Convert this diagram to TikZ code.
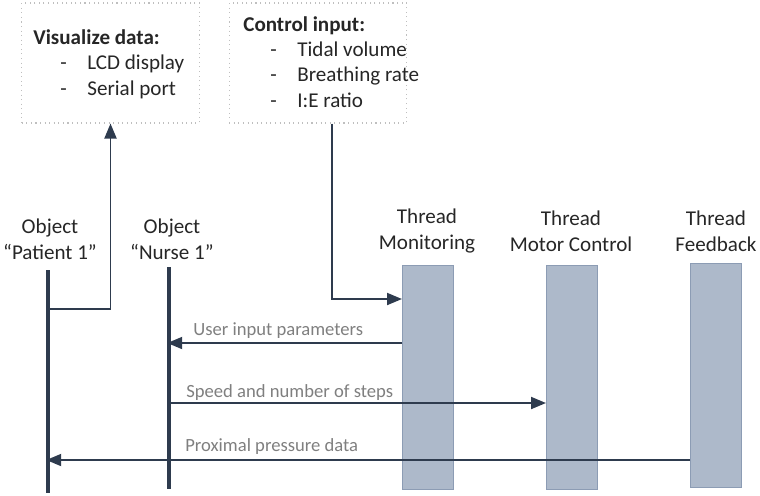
\documentclass[tikz,border=0pt]{standalone}
\usepackage{fontspec}
\setmainfont{Carlito}
\usetikzlibrary{arrows.meta,positioning}
\definecolor{threadfill}{HTML}{ADB9CA}
\definecolor{threaddraw}{HTML}{8C9CB4}
\definecolor{linecol}{HTML}{2E3B4E}
\definecolor{labelgray}{HTML}{7F7F7F}
\definecolor{boxgray}{HTML}{BFBFBF}
\newcommand{\dashitem}[1]{\hspace*{0.54cm}\makebox[0.54cm][l]{-}#1}

\begin{document}
\begin{tikzpicture}[x=0.02cm,y=-0.02cm,
    font=\fontsize{12}{14.4}\selectfont,
    thread/.style={draw=threaddraw,fill=threadfill,inner sep=0pt,
      minimum width=1.02cm,minimum height=4.48cm,anchor=north west},
    tlabel/.style={align=center,text=black!85,font=\fontsize{12}{14.8}\selectfont},
    lifeline/.style={draw=linecol,line width=2.3pt},
    msg/.style={draw=linecol,line width=1.1pt,-{Triangle[length=0.3cm,width=0.24cm]}},
    msglbl/.style={anchor=west,text=labelgray,inner sep=0pt,font=\fontsize{10.6}{12}\selectfont},
    infobox/.style={draw=boxgray,dotted,line width=0.6pt,minimum width=3.55cm,minimum height=2.4cm},
    boxtext/.style={anchor=west,align=left,inner sep=0pt,text=black!85}]
  \useasboundingbox (0,0) rectangle (760,495);

  % info boxes
  \node[infobox] (vis) at (110.5,63) {};
  \node[infobox] (ctl) at (318,63) {};
  \node[boxtext] (vistxt) at (33,64) {\textbf{Visualize data:}\\\dashitem{LCD display}\\\dashitem{Serial port}};
  \node[boxtext] (ctltxt) at (243,62) {\textbf{Control input:}\\\dashitem{Tidal volume}\\\dashitem{Breathing rate}\\\dashitem{I:E ratio}};

  % objects
  \node[tlabel] (patlbl) at (50,239) {Object\\“Patient 1”};
  \node[tlabel] (nurlbl) at (172,239) {Object\\“Nurse 1”};
  \coordinate (pattop) at (48,270);
  \coordinate (patbot) at (48,493);
  \coordinate (nurtop) at (169,267);
  \coordinate (nurbot) at (169,489);
  \draw[lifeline] (pattop) -- (patbot);
  \draw[lifeline] (nurtop) -- (nurbot);

  % threads
  \node[thread] (mon) at (402,265) {};
  \node[thread] (mot) at (546,265) {};
  \node[thread] (fb) at (690,263) {};
  \node[tlabel] (monlbl) at (427,231) {Thread\\Monitoring};
  \node[tlabel] (motlbl) at (571,231) {Thread\\Motor Control};
  \node[tlabel] (fblbl) at (716,231) {Thread\\Feedback};

  % input and output
  \coordinate (vbend) at (110.5,309);
  \coordinate (cbend) at (332,299);
  \draw[msg] (pattop |- vbend) -| (vis.south);
  \draw[msg] (cbend |- ctl.south) |- (mon.west |- cbend);

  % messages
  \coordinate (u1) at (0,343);
  \coordinate (u2) at (0,403);
  \coordinate (u3) at (0,460);
  \draw[msg,shorten >=-1pt] (mon.west |- u1) -- (nurtop |- u1);
  \draw[msg] (nurtop |- u2) -- (mot.west |- u2);
  \draw[msg,shorten >=-1pt] (fb.west |- u3) -- (pattop |- u3);
  \node[msglbl] (ulbl) at (193,331) {User input parameters};
  \node[msglbl] (slbl) at (186,393) {Speed and number of steps};
  \node[msglbl] (plbl) at (185,447) {Proximal pressure data};
\end{tikzpicture}
\end{document}
